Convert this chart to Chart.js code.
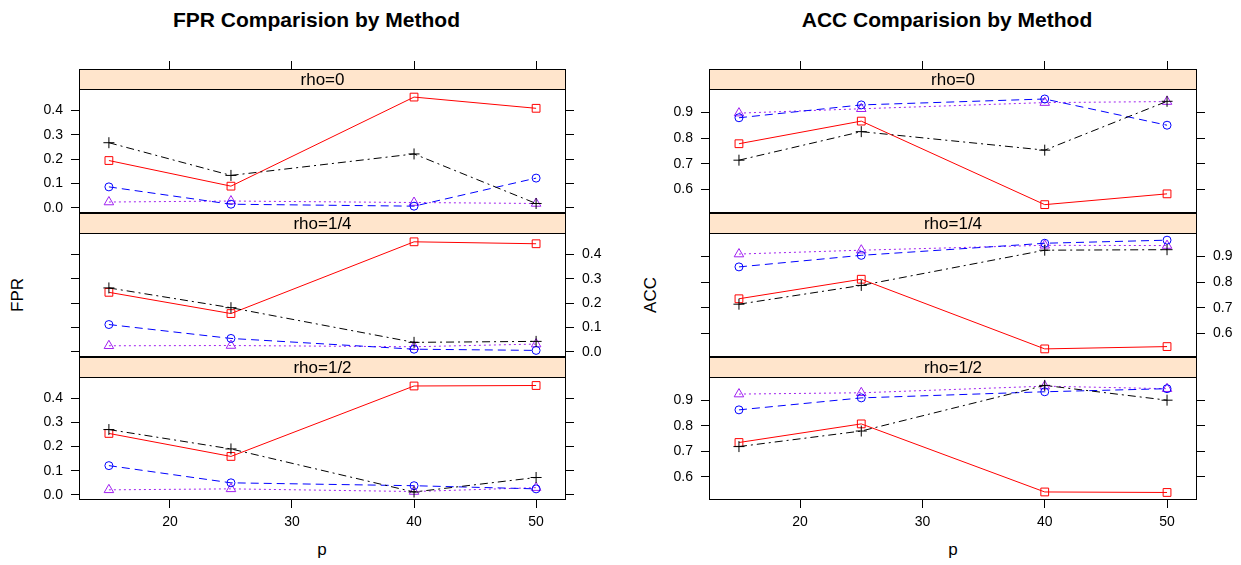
<!DOCTYPE html>
<html lang="en">
<head>
<meta charset="UTF-8">
<title>FPR and ACC Comparision by Method</title>
<script src="https://cdn.jsdelivr.net/npm/chart.js@4.4.0/dist/chart.umd.min.js"></script>
<style>
  body { margin: 0; background: #fff; }
  #page { position: relative; width: 1241px; height: 565px; overflow: hidden;
          font-family: "Liberation Sans", Arial, sans-serif; color: #000; }
  .panel { position: absolute; }
  .title { position: absolute; top: 9px; height: 22px; line-height: 22px;
           font-weight: bold; font-size: 21px; text-align: center; }
  .lab { position: absolute; font-size: 17px; white-space: nowrap;
         transform: translate(-50%, -50%); }
  .rot { transform: translate(-50%, -50%) rotate(-90deg); }
</style>
</head>
<body>
<div id="page">
  <div class="title" style="left:73px;width:487px">FPR Comparision by Method</div>
  <div class="title" style="left:703px;width:488px">ACC Comparision by Method</div>
  <div class="lab rot" style="left:18px;top:295px">FPR</div>
  <div class="lab rot" style="left:651px;top:295px">ACC</div>
  <div class="lab" style="left:322px;top:550px">p</div>
  <div class="lab" style="left:953px;top:550px">p</div>
</div>

<script>
// number of variables on the x axis, and the conditioning levels
var pValues = [15, 25, 40, 50];
var rhoLevels = ["rho=0", "rho=1/4", "rho=1/2"];
var xTicks = [20, 30, 40, 50];
var fprTicks = [0.0, 0.1, 0.2, 0.3, 0.4];
var accTicks = [0.6, 0.7, 0.8, 0.9];

// FPR by method, one row per rho level
var fprCross    = [[0.267, 0.133, 0.221, 0.018], [0.262, 0.181, 0.039, 0.043], [0.270, 0.190, 0.012, 0.072]];
var fprSquare   = [[0.194, 0.089, 0.454, 0.408], [0.244, 0.157, 0.451, 0.443], [0.254, 0.159, 0.450, 0.452]];
var fprCircle   = [[0.086, 0.015, 0.007, 0.122], [0.112, 0.055, 0.011, 0.006], [0.121, 0.050, 0.038, 0.025]];
var fprTriangle = [[0.024, 0.028, 0.022, 0.018], [0.025, 0.026, 0.021, 0.032], [0.021, 0.025, 0.014, 0.030]];

// ACC by method, one row per rho level
var accCross    = [[0.714, 0.825, 0.753, 0.943], [0.714, 0.787, 0.924, 0.926], [0.718, 0.779, 0.958, 0.900]];
var accSquare   = [[0.778, 0.866, 0.541, 0.583], [0.735, 0.811, 0.540, 0.549], [0.734, 0.807, 0.540, 0.538]];
var accCircle   = [[0.879, 0.929, 0.952, 0.850], [0.859, 0.904, 0.951, 0.963], [0.862, 0.909, 0.933, 0.945]];
var accTriangle = [[0.897, 0.914, 0.938, 0.942], [0.909, 0.924, 0.943, 0.942], [0.924, 0.929, 0.955, 0.945]];

var methodStyles = [
  { color: "#000000", dash: [8, 4, 2, 4], point: "cross", radius: 5.5 },
  { color: "#ff0000", dash: [], point: "rect", radius: 5.5 },
  { color: "#0000ff", dash: [8, 5], point: "circle", radius: 4 },
  { color: "#a020f0", dash: [2, 3], point: "triangle", radius: 5.5 }
];

Chart.defaults.font.family = "'Liberation Sans', Arial, sans-serif";
Chart.defaults.font.size = 14;
Chart.defaults.color = "#000";

// panel geometry (shared by both figures)
var AREA_TOPS = [69, 213, 357];
var AREA_BOTTOM = 500;
var STRIP_H = 21;
var TICK = 8;
var X_LIM = [12.55, 52.45];

var figures = [
  { left: 0, width: 620, plotLeft: 79, plotRight: 566, lim: [-0.021, 0.483], ticks: fprTicks,
    series: [fprCross, fprSquare, fprCircle, fprTriangle] },
  { left: 630, width: 611, plotLeft: 709, plotRight: 1197, lim: [0.5085, 0.987], ticks: accTicks,
    series: [accCross, accSquare, accCircle, accTriangle] }
];

// strip with the rho label on top of each panel, and the panel frame
var stripPlugin = {
  id: "strip",
  beforeDatasetsDraw: function (chart, args, opts) {
    var a = chart.chartArea, ctx = chart.ctx;
    ctx.save();
    ctx.fillStyle = "#ffe5cc";
    ctx.fillRect(a.left, a.top, a.right - a.left, STRIP_H);
    ctx.strokeStyle = "#000";
    ctx.lineWidth = 1;
    ctx.beginPath();
    ctx.moveTo(a.left, a.top + STRIP_H - 0.5);
    ctx.lineTo(a.right, a.top + STRIP_H - 0.5);
    ctx.stroke();
    ctx.fillStyle = "#000";
    ctx.font = "17px 'Liberation Sans', Arial, sans-serif";
    ctx.textAlign = "center";
    ctx.textBaseline = "middle";
    ctx.fillText(opts.text, (a.left + a.right) / 2, a.top + STRIP_H / 2 + 1);
    ctx.restore();
  },
  afterDatasetsDraw: function (chart) {
    var a = chart.chartArea, ctx = chart.ctx;
    ctx.save();
    ctx.strokeStyle = "#000";
    ctx.lineWidth = 1;
    ctx.strokeRect(a.left + 0.5, a.top + 0.5, a.right - a.left - 1, a.bottom - a.top - 1);
    ctx.restore();
  }
};

function tickList(values) {
  return function (scale) {
    scale.ticks = values.map(function (v) { return { value: v }; });
  };
}

function fixedHeight(h) { return function (scale) { scale.height = h; }; }

// fixed axis width; the label overhang must not push the plot area in
function fixedWidth(w) {
  return function (scale) {
    scale.width = w;
    scale.paddingTop = 0;
    scale.paddingBottom = 0;
  };
}

function makePanel(fig, i) {
  var page = document.getElementById("page");
  var areaTop = AREA_TOPS[i];
  var areaBottom = i < 2 ? AREA_TOPS[i + 1] : AREA_BOTTOM;
  var areaH = areaBottom - areaTop;
  var plotH = areaH - STRIP_H;
  var lo = fig.lim[0], hi = fig.lim[1];
  var yMax = lo + (hi - lo) * areaH / plotH;

  var topH = 20;
  var bottomH = i === 2 ? 40 : 20;
  var box = document.createElement("div");
  box.className = "panel";
  box.style.left = fig.left + "px";
  box.style.top = (areaTop - topH) + "px";
  box.style.width = fig.width + "px";
  box.style.height = (areaH + topH + bottomH) + "px";
  var canvas = document.createElement("canvas");
  box.appendChild(canvas);
  page.appendChild(box);

  var leftLabels = i !== 1;
  var gridOpts = function (draw) {
    return { display: true, drawOnChartArea: false, drawTicks: draw, tickLength: TICK, color: "#000", lineWidth: 1 };
  };
  var fmt = function (v) { return Number(v).toFixed(1); };

  var datasets = fig.series.map(function (s, k) {
    var st = methodStyles[k];
    return {
      data: pValues.map(function (p, j) { return { x: p, y: s[i][j] }; }),
      xAxisID: "x",
      yAxisID: "y",
      borderColor: st.color,
      borderWidth: 1,
      borderDash: st.dash,
      pointStyle: st.point,
      pointRadius: st.radius,
      pointBorderColor: st.color,
      pointBackgroundColor: "rgba(0,0,0,0)",
      pointBorderWidth: 1,
      tension: 0,
      fill: false
    };
  });

  new Chart(canvas, {
    type: "line",
    data: { datasets: datasets },
    plugins: [stripPlugin],
    options: {
      responsive: true,
      maintainAspectRatio: false,
      animation: false,
      events: [],
      layout: { padding: 0 },
      plugins: { legend: { display: false }, tooltip: { enabled: false }, strip: { text: rhoLevels[i] } },
      scales: {
        x: {
          type: "linear", position: "bottom", min: X_LIM[0], max: X_LIM[1],
          afterBuildTicks: tickList(xTicks), afterFit: fixedHeight(bottomH),
          ticks: { display: i === 2, padding: 6, autoSkip: false, maxRotation: 0,
                   callback: function (v) { return String(v); } },
          grid: gridOpts(i === 2), border: { display: false }
        },
        xTop: {
          type: "linear", position: "top", min: X_LIM[0], max: X_LIM[1],
          afterBuildTicks: tickList(xTicks), afterFit: fixedHeight(topH),
          ticks: { display: false },
          grid: gridOpts(i === 0), border: { display: false }
        },
        y: {
          type: "linear", position: "left", min: lo, max: yMax,
          afterBuildTicks: tickList(fig.ticks), afterFit: fixedWidth(fig.plotLeft - fig.left),
          ticks: { display: leftLabels, padding: 8, autoSkip: false, callback: fmt },
          grid: gridOpts(true), border: { display: false }
        },
        yRight: {
          type: "linear", position: "right", min: lo, max: yMax,
          afterBuildTicks: tickList(fig.ticks), afterFit: fixedWidth(fig.left + fig.width - fig.plotRight),
          ticks: { display: !leftLabels, padding: 8, autoSkip: false, callback: fmt },
          grid: gridOpts(true), border: { display: false }
        }
      }
    }
  });
}

figures.forEach(function (fig) {
  for (var i = 0; i < rhoLevels.length; i++) makePanel(fig, i);
});
</script>
</body>
</html>
